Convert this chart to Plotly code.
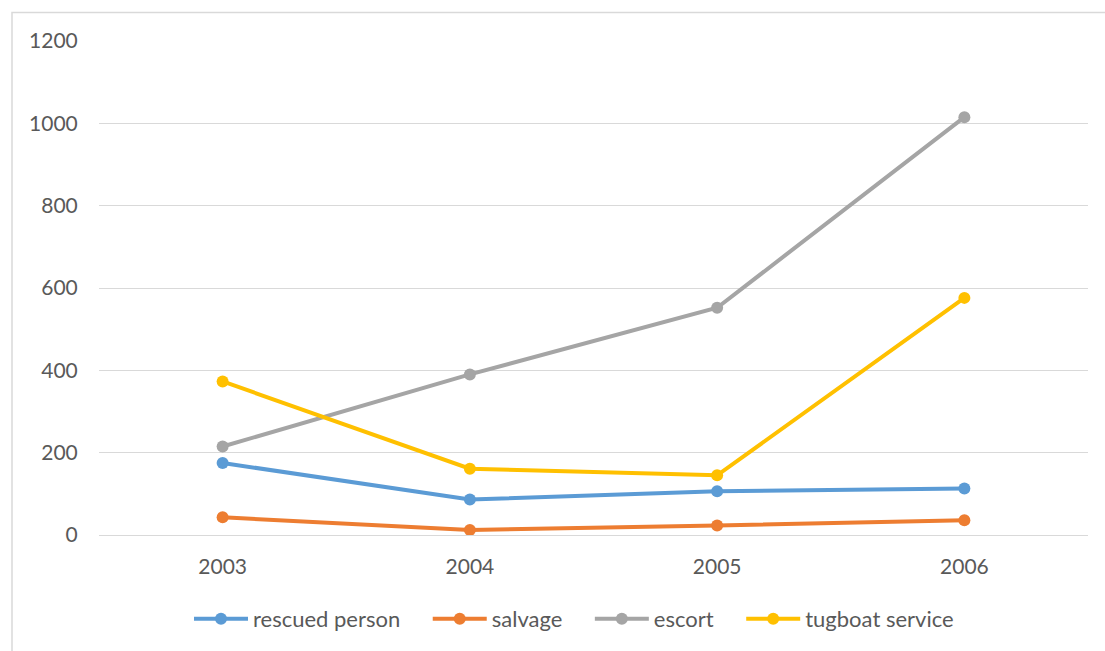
import plotly.graph_objects as go

years = ["2003", "2004", "2005", "2006"]
rescued_person = [175, 86, 106, 113]
salvage = [43, 12, 23, 36]
escort = [215, 390, 552, 1015]
tugboat_service = [373, 161, 145, 576]

series_names = ["rescued person", "salvage", "escort", "tugboat service"]
series_values = [rescued_person, salvage, escort, tugboat_service]
colors = ["#5B9BD5", "#ED7D31", "#A5A5A5", "#FFC000"]

W, H = 1105, 651
L, R, T, B = 99, 17, 41, 115
FONT = "Lato, sans-serif"
FS_TICK = 21
FS_LEG = 22
PAD = "\u00a0" * 4

fig = go.Figure()
n = len(series_names)
for i, (name, vals, col) in enumerate(zip(series_names, series_values, colors)):
    fig.add_trace(go.Scatter(
        x=years, y=vals, name=name + (PAD if i < n - 1 else ""),
        mode="lines+markers",
        line=dict(color=col, width=4),
        marker=dict(color=col, size=12),
    ))

pw = W - L - R
ph = H - T - B

def px_x(p):
    return (p - L) / pw

def px_y(p):
    return (H - B - p) / ph

fig.add_shape(type="rect", xref="paper", yref="paper",
              x0=px_x(12), x1=px_x(1120), y0=px_y(665), y1=px_y(12.5),
              line=dict(color="#D9D9D9", width=1.5), fillcolor="rgba(0,0,0,0)",
              layer="below")

fig.update_layout(
    width=W, height=H,
    margin=dict(l=L, r=R, t=T, b=B),
    paper_bgcolor="white", plot_bgcolor="white",
    font=dict(family=FONT, size=FS_TICK, color="#595959"),
    showlegend=True,
    legend=dict(orientation="h", x=px_x(574), xanchor="center",
                y=px_y(619), yanchor="middle",
                font=dict(family=FONT, size=FS_LEG, color="#595959"),
                itemwidth=54, tracegroupgap=0),
    xaxis=dict(type="category", range=[-0.5, 3.5], showgrid=False,
               showline=False, zeroline=False,
               ticks="outside", ticklen=13, tickcolor="rgba(0,0,0,0)",
               tickfont=dict(family=FONT, size=FS_TICK, color="#595959")),
    yaxis=dict(range=[0, 1200], dtick=200, showgrid=True, gridcolor="#D9D9D9",
               gridwidth=1.3, zeroline=True, zerolinecolor="#D9D9D9", zerolinewidth=1.3,
               showline=False, ticks="outside", ticklen=16,
               tickcolor="rgba(0,0,0,0)",
               tickfont=dict(family=FONT, size=FS_TICK, color="#595959")),
)

fig.write_html("out.html")
